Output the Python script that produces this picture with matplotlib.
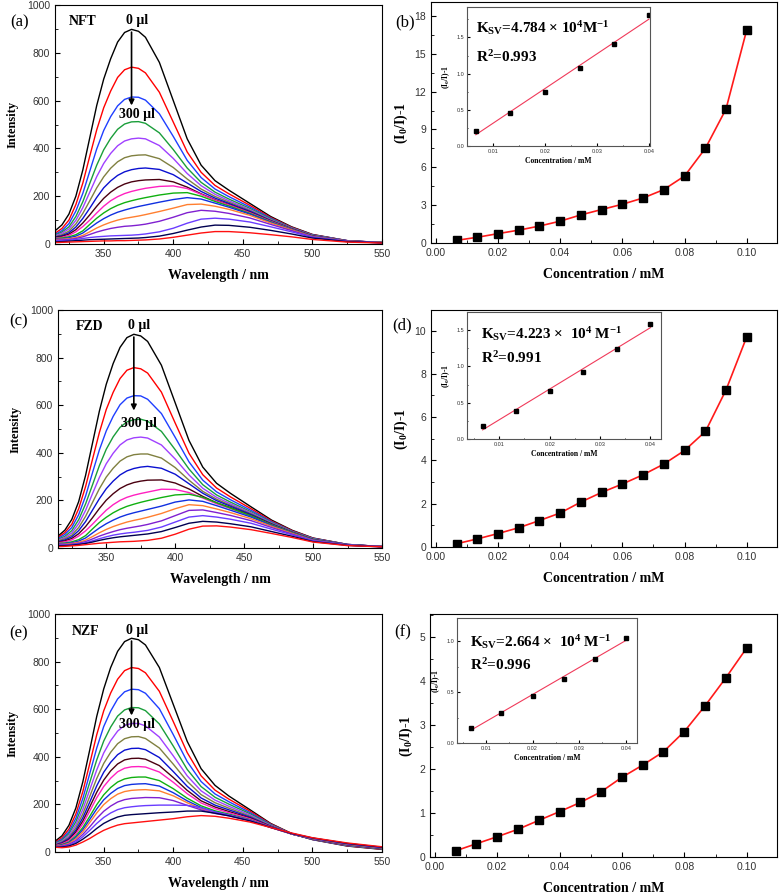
import numpy as np
import matplotlib
matplotlib.use("Agg")
import matplotlib.pyplot as plt
from matplotlib.ticker import MultipleLocator

plt.rcParams['mathtext.fontset'] = 'custom'
plt.rcParams['mathtext.rm'] = 'Liberation Serif'
plt.rcParams['mathtext.bf'] = 'Liberation Serif:bold'
plt.rcParams['mathtext.default'] = 'bf'

# ---- spectra ----
wavelength = [315, 320, 325, 330, 335, 340, 345, 350, 355, 360, 365, 370, 375, 380,
              390, 400, 410, 420, 430, 440, 455, 470, 485, 500, 525, 550]

nft_spectra = [
    [55, 80, 125, 200, 310, 445, 580, 690, 775, 845, 885, 898, 890, 865, 760, 600, 440, 330, 265, 225, 170, 115, 72, 40, 14, 6],
    [45, 65, 100, 165, 255, 368, 478, 570, 640, 697, 729, 740, 735, 716, 635, 510, 385, 300, 245, 210, 162, 111, 70, 39, 14, 6],
    [40, 56, 85, 138, 212, 305, 398, 475, 533, 578, 605, 615, 614, 602, 545, 450, 350, 278, 230, 198, 155, 108, 68, 38, 14, 6],
    [37, 50, 72, 115, 177, 254, 330, 394, 442, 480, 502, 511, 512, 505, 465, 395, 318, 258, 217, 188, 149, 105, 67, 37, 13, 6],
    [34, 45, 63, 99, 152, 217, 282, 337, 379, 411, 431, 440, 443, 440, 412, 358, 295, 244, 208, 181, 144, 102, 66, 36, 13, 6],
    [31, 39, 54, 84, 128, 181, 235, 281, 317, 344, 361, 369, 372, 373, 357, 320, 272, 230, 199, 175, 140, 100, 65, 35, 13, 6],
    [29, 35, 47, 71, 107, 150, 195, 235, 264, 287, 302, 311, 316, 318, 312, 290, 255, 220, 192, 170, 137, 98, 64, 34, 13, 6],
    [27, 32, 41, 60, 88, 122, 158, 191, 217, 237, 251, 260, 265, 268, 270, 260, 238, 210, 185, 165, 133, 96, 63, 33, 12, 6],
    [25, 28, 36, 51, 73, 100, 130, 158, 181, 198, 211, 220, 227, 233, 241, 243, 232, 208, 183, 163, 131, 95, 62, 32, 12, 6],
    [23, 25, 30, 39, 55, 82, 108, 130, 148, 162, 173, 181, 188, 194, 205, 213, 215, 200, 178, 159, 128, 93, 61, 32, 12, 6],
    [21, 22, 26, 33, 46, 67, 88, 106, 121, 133, 142, 150, 157, 163, 175, 186, 194, 188, 171, 154, 125, 91, 60, 31, 12, 6],
    [19, 20, 22, 27, 36, 51, 67, 80, 91, 100, 107, 112, 117, 123, 136, 150, 165, 167, 158, 145, 120, 88, 59, 31, 12, 6],
    [16, 17, 19, 23, 30, 40, 50, 58, 65, 70, 74, 76, 79, 83, 95, 112, 131, 141, 137, 128, 109, 82, 56, 30, 11, 5],
    [13, 14, 16, 19, 23, 27, 30, 32, 34, 35, 36, 37, 39, 42, 51, 66, 87, 104, 108, 104, 92, 72, 51, 28, 11, 5],
    [9, 10, 12, 14, 16, 18, 19, 20, 21, 22, 23, 24, 25, 27, 33, 44, 58, 71, 79, 78, 70, 57, 42, 25, 10, 5],
    [6, 7, 8, 9, 10, 11, 12, 13, 13, 14, 14, 15, 16, 17, 21, 28, 37, 46, 52, 52, 47, 39, 30, 19, 8, 4],
]

fzd_spectra = [
    [50, 75, 120, 195, 305, 440, 575, 688, 775, 843, 884, 898, 891, 868, 768, 610, 452, 340, 272, 230, 173, 117, 74, 42, 15, 6],
    [45, 65, 100, 165, 258, 372, 485, 582, 654, 712, 747, 758, 753, 735, 655, 525, 398, 308, 252, 215, 165, 113, 72, 41, 15, 6],
    [40, 57, 86, 140, 218, 316, 412, 492, 553, 602, 630, 640, 639, 625, 565, 465, 362, 285, 236, 203, 158, 110, 70, 40, 15, 6],
    [36, 49, 73, 119, 185, 265, 346, 415, 467, 507, 530, 539, 541, 533, 490, 413, 332, 266, 223, 193, 152, 107, 69, 39, 14, 6],
    [33, 44, 63, 102, 158, 228, 296, 354, 398, 433, 454, 463, 466, 462, 433, 374, 307, 251, 213, 186, 148, 105, 68, 38, 14, 6],
    [30, 39, 54, 86, 133, 191, 249, 298, 335, 365, 383, 392, 395, 395, 378, 338, 285, 238, 205, 180, 144, 103, 67, 37, 14, 6],
    [27, 34, 47, 73, 111, 159, 207, 249, 281, 307, 324, 334, 340, 343, 335, 310, 270, 230, 199, 176, 141, 101, 66, 36, 14, 6],
    [24, 30, 40, 60, 90, 127, 166, 201, 228, 250, 265, 275, 281, 285, 286, 273, 248, 217, 190, 170, 137, 99, 65, 35, 13, 6],
    [22, 26, 34, 50, 72, 100, 130, 159, 182, 200, 213, 222, 229, 235, 247, 246, 233, 210, 186, 166, 134, 97, 64, 34, 13, 6],
    [19, 21, 26, 35, 52, 80, 107, 129, 148, 163, 175, 184, 192, 199, 212, 223, 226, 213, 190, 168, 135, 97, 64, 34, 13, 6],
    [17, 19, 22, 29, 42, 63, 84, 102, 117, 130, 140, 148, 155, 162, 176, 193, 202, 196, 178, 159, 130, 94, 62, 33, 13, 6],
    [15, 16, 19, 24, 33, 48, 64, 78, 90, 100, 109, 116, 122, 129, 145, 165, 182, 178, 164, 149, 123, 91, 61, 32, 12, 6],
    [13, 14, 16, 20, 27, 38, 50, 60, 69, 77, 83, 88, 93, 99, 114, 136, 158, 160, 149, 137, 115, 86, 58, 31, 12, 6],
    [11, 12, 14, 17, 22, 30, 39, 47, 54, 59, 63, 66, 70, 74, 88, 109, 130, 136, 130, 121, 104, 79, 55, 30, 12, 5],
    [9, 10, 12, 15, 19, 25, 32, 38, 43, 47, 50, 53, 56, 59, 69, 86, 104, 112, 109, 102, 89, 69, 49, 27, 11, 5],
    [6, 7, 9, 11, 14, 17, 20, 22, 24, 26, 27, 28, 30, 32, 41, 58, 79, 92, 93, 88, 77, 61, 44, 25, 10, 5],
]

nzf_spectra = [
    [45, 68, 112, 185, 295, 430, 570, 685, 775, 843, 884, 898, 892, 870, 775, 620, 465, 350, 280, 235, 178, 120, 78, 52, 25, 11],
    [40, 60, 96, 160, 254, 372, 493, 593, 668, 726, 762, 775, 771, 753, 675, 548, 418, 320, 260, 222, 172, 118, 77, 53, 26, 12],
    [37, 54, 85, 142, 225, 330, 437, 527, 592, 643, 673, 684, 682, 667, 602, 493, 380, 296, 244, 211, 166, 116, 76, 53, 27, 13],
    [35, 50, 77, 127, 200, 293, 387, 466, 525, 571, 597, 607, 606, 594, 538, 445, 347, 275, 230, 201, 161, 114, 76, 54, 28, 14],
    [33, 46, 69, 114, 179, 262, 345, 416, 468, 508, 532, 540, 540, 530, 483, 404, 320, 257, 218, 192, 156, 112, 76, 54, 29, 15],
    [31, 42, 62, 102, 160, 234, 309, 372, 419, 455, 476, 484, 485, 477, 437, 369, 297, 241, 207, 184, 151, 110, 76, 55, 30, 15],
    [29, 39, 57, 92, 144, 210, 278, 335, 377, 409, 428, 435, 436, 430, 397, 338, 276, 227, 197, 177, 147, 108, 76, 55, 31, 16],
    [28, 36, 52, 84, 130, 190, 251, 302, 341, 370, 387, 393, 394, 390, 363, 313, 259, 215, 189, 170, 143, 107, 76, 55, 31, 16],
    [27, 34, 48, 76, 118, 172, 228, 275, 310, 337, 352, 358, 359, 357, 336, 293, 245, 206, 182, 165, 140, 106, 76, 56, 32, 17],
    [25, 31, 42, 67, 103, 150, 199, 240, 271, 294, 307, 313, 315, 315, 300, 266, 226, 194, 173, 159, 136, 104, 76, 56, 33, 17],
    [24, 29, 39, 61, 94, 137, 181, 219, 246, 267, 279, 284, 286, 287, 277, 249, 215, 187, 168, 156, 134, 103, 76, 57, 34, 18],
    [23, 27, 36, 55, 85, 124, 164, 199, 224, 243, 254, 259, 261, 262, 257, 236, 207, 182, 165, 154, 133, 103, 76, 57, 34, 18],
    [22, 25, 32, 48, 74, 106, 141, 171, 193, 210, 220, 225, 227, 229, 228, 216, 196, 177, 162, 152, 132, 103, 77, 58, 35, 19],
    [21, 23, 28, 42, 64, 91, 120, 145, 164, 178, 186, 190, 193, 195, 197, 197, 196, 186, 168, 155, 133, 104, 78, 58, 35, 19],
    [20, 21, 25, 36, 54, 75, 99, 120, 135, 147, 154, 157, 159, 161, 165, 168, 172, 172, 163, 152, 131, 104, 78, 59, 36, 20],
    [20, 18, 21, 29, 42, 57, 75, 91, 103, 113, 119, 122, 125, 128, 134, 140, 148, 153, 150, 142, 126, 103, 80, 60, 38, 22],
]

line_colors = ['#000000', '#ff0000', '#1f3fff', '#1a9e3a', '#a040ff', '#808040', '#0a10d0', '#4a0010',
               '#ff20c0', '#10b010', '#1030e0', '#ff7f30', '#8020d0', '#6a3cff', '#000050', '#ff1010']

# ---- Stern-Volmer data ----
conc = [0.0067, 0.0133, 0.0200, 0.0267, 0.0333, 0.0400, 0.0467, 0.0533, 0.0600, 0.0667,
        0.0733, 0.0800, 0.0867, 0.0933, 0.1000]
nft_sv = [0.21, 0.45, 0.74, 1.02, 1.34, 1.73, 2.23, 2.65, 3.07, 3.57, 4.23, 5.31, 7.51, 10.61, 16.92]
fzd_sv = [0.15, 0.37, 0.62, 0.89, 1.22, 1.57, 2.08, 2.52, 2.91, 3.34, 3.83, 4.46, 5.34, 7.25, 9.72]
nzf_sv = [0.14, 0.30, 0.46, 0.63, 0.83, 1.03, 1.24, 1.48, 1.81, 2.09, 2.39, 2.85, 3.44, 4.07, 4.75]

inset_conc = [0.0067, 0.0133, 0.0200, 0.0267, 0.0333, 0.0400]
nft_inset = [0.21, 0.46, 0.75, 1.08, 1.41, 1.81]
fzd_inset = [0.18, 0.39, 0.655, 0.92, 1.24, 1.59]
nzf_inset = [0.148, 0.292, 0.462, 0.633, 0.826, 1.033]

SERIF = 'Liberation Serif'
SANS = 'Liberation Sans'

fig = plt.figure(figsize=(7.8, 8.94), dpi=100)
W, H = 780, 894


def add_ax(x0, y0, x1, y1):
    return fig.add_axes([x0 / W, 1 - y1 / H, (x1 - x0) / W, (y1 - y0) / H])


def style_ticks(ax, size=7.5):
    ax.tick_params(which='both', direction='in', labelsize=size, colors='black', labelcolor='#333333')
    ax.tick_params(which='major', length=3.5, width=0.8)
    ax.tick_params(which='minor', length=2, width=0.6)
    for lab in ax.get_xticklabels() + ax.get_yticklabels():
        lab.set_fontfamily(SANS)


def spectra_panel(box, spectra, name, tag, tag_xy, tx):
    ax = add_ax(*box)
    for spec, c in zip(spectra, line_colors):
        ax.plot(wavelength, spec, color=c, lw=1.0)
    ax.set_xlim(315, 550)
    ax.set_ylim(0, 1000)
    ax.xaxis.set_major_locator(MultipleLocator(50))
    ax.xaxis.set_minor_locator(MultipleLocator(25))
    ax.yaxis.set_major_locator(MultipleLocator(200))
    ax.yaxis.set_minor_locator(MultipleLocator(100))
    style_ticks(ax)
    ax.set_xlabel('Wavelength / nm', fontfamily=SERIF, fontweight='bold', fontsize=10, labelpad=7)
    ax.set_ylabel('Intensity', fontfamily=SERIF, fontweight='bold', fontsize=9, labelpad=6)
    ax.text(tx[0], tx[1], name, fontfamily=SERIF, fontweight='bold', fontsize=10, ha='center', va='center')
    ax.text(374, tx[1] + 5, r'0 μl', fontfamily=SERIF, fontweight='bold', fontsize=10, ha='center', va='center')
    ax.annotate('', xy=(370, tx[2]), xytext=(370, 898),
                arrowprops=dict(arrowstyle='-|>', color='black', lw=1.2, mutation_scale=8))
    ax.text(374, tx[3], r'300 μl', fontfamily=SERIF, fontweight='bold', fontsize=10, ha='center', va='center')
    fig.text(tag_xy[0] / W, 1 - tag_xy[1] / H, tag, fontfamily=SERIF, fontsize=12, ha='center', va='center')
    return ax


def sv_panel(box, yvals, ylim, ystep, tag, tag_xy, inset_box, inset_y, inset_lim, ksv, r2, txt_pos):
    ax = add_ax(*box)
    ax.plot(conc, yvals, color='#ff1a1a', lw=1.2, marker='s', ms=5.5, mfc='black', mec='black')
    ax.set_xlim(-0.0015, 0.1097)
    ax.set_ylim(*ylim)
    ax.xaxis.set_major_locator(MultipleLocator(0.02))
    ax.xaxis.set_minor_locator(MultipleLocator(0.01))
    ax.yaxis.set_major_locator(MultipleLocator(ystep))
    ax.yaxis.set_minor_locator(MultipleLocator(ystep / 2))
    ax.xaxis.set_major_formatter(plt.FuncFormatter(lambda v, p: f'{v:.2f}'))
    style_ticks(ax)
    ax.set_xlabel('Concentration / mM', fontfamily=SERIF, fontweight='bold', fontsize=10, labelpad=7)
    ax.set_ylabel(r'(I$_0$/I)-1', fontfamily=SERIF, fontweight='bold', fontsize=10, labelpad=3)
    fig.text(tag_xy[0] / W, 1 - tag_xy[1] / H, tag, fontfamily=SERIF, fontsize=12, ha='center', va='center')

    ins = add_ax(*inset_box)
    slope, icpt = np.polyfit(inset_conc, inset_y, 1)
    fx = np.array([inset_conc[0], inset_conc[-1]])
    ins.plot(fx, slope * fx + icpt, color='#f03a5a', lw=0.8)
    ins.plot(inset_conc, inset_y, ls='none', marker='s', ms=2.2, color='black')
    ins.set_xlim(*inset_lim[0])
    ins.set_ylim(*inset_lim[1])
    ins.xaxis.set_major_locator(MultipleLocator(0.01))
    ins.xaxis.set_minor_locator(MultipleLocator(0.005))
    ins.yaxis.set_major_locator(MultipleLocator(0.5))
    ins.yaxis.set_minor_locator(MultipleLocator(0.25))
    ins.xaxis.set_major_formatter(plt.FuncFormatter(lambda v, p: f'{v:.2f}'))
    ins.yaxis.set_major_formatter(plt.FuncFormatter(lambda v, p: f'{v:.1f}'))
    style_ticks(ins, size=4)
    ins.tick_params(which='major', length=2, pad=2)
    ins.tick_params(which='minor', length=1)
    for s in ins.spines.values():
        s.set_color('#555555')
        s.set_linewidth(0.8)
    ins.set_xlabel('Concentration / mM', fontfamily=SERIF, fontweight='bold', fontsize=5.5, labelpad=2)
    ins.set_ylabel(r'(I$_0$/I)-1', fontfamily=SERIF, fontweight='bold', fontsize=5.5, labelpad=3)
    ins.text(txt_pos[0], txt_pos[1], ksv, transform=ins.transAxes, fontfamily=SERIF,
             fontweight='bold', fontsize=11, ha='left', va='center')
    ins.text(txt_pos[0], txt_pos[2], r2, transform=ins.transAxes, fontfamily=SERIF,
             fontweight='bold', fontsize=11, ha='left', va='center')
    return ax


spectra_panel((55, 5, 382, 244), nft_spectra, 'NFT', '(a)', (20, 22), (335, 930, 568, 540))
spectra_panel((58, 310, 382, 548), fzd_spectra, 'FZD', '(c)', (19, 321), (338, 930, 566, 524))
spectra_panel((55, 614, 382, 852), nzf_spectra, 'NZF', '(e)', (19, 633), (337, 926, 562, 534))

sv_panel((431, 2, 777, 243), nft_sv, (0, 19.1), 3, '(b)', (405, 22),
         (467, 7, 650, 146), nft_inset, ((0.0050, 0.0402), (0, 1.92)),
         r'K$_{SV}$=4.784 × 10$^{4}$M$^{-1}$', r'R$^{2}$=0.993', (0.05, 0.85, 0.64))
sv_panel((431, 310, 777, 547), fzd_sv, (0, 10.95), 2, '(d)', (402, 325),
         (467, 312, 661, 439), fzd_inset, ((0.0036, 0.0421), (0, 1.75)),
         r'K$_{SV}$=4.223 ×  10$^{4}$ M$^{-1}$', r'R$^{2}$=0.991', (0.07, 0.83, 0.64))
sv_panel((430, 614, 777, 857), nzf_sv, (0, 5.52), 1, '(f)', (403, 632),
         (457, 618, 637, 743), nzf_inset, ((0.0038, 0.0424), (0, 1.23)),
         r'K$_{SV}$=2.664 ×  10$^{4}$ M$^{-1}$', r'R$^{2}$=0.996', (0.07, 0.81, 0.62))

fig.savefig('out.png', dpi=100)
